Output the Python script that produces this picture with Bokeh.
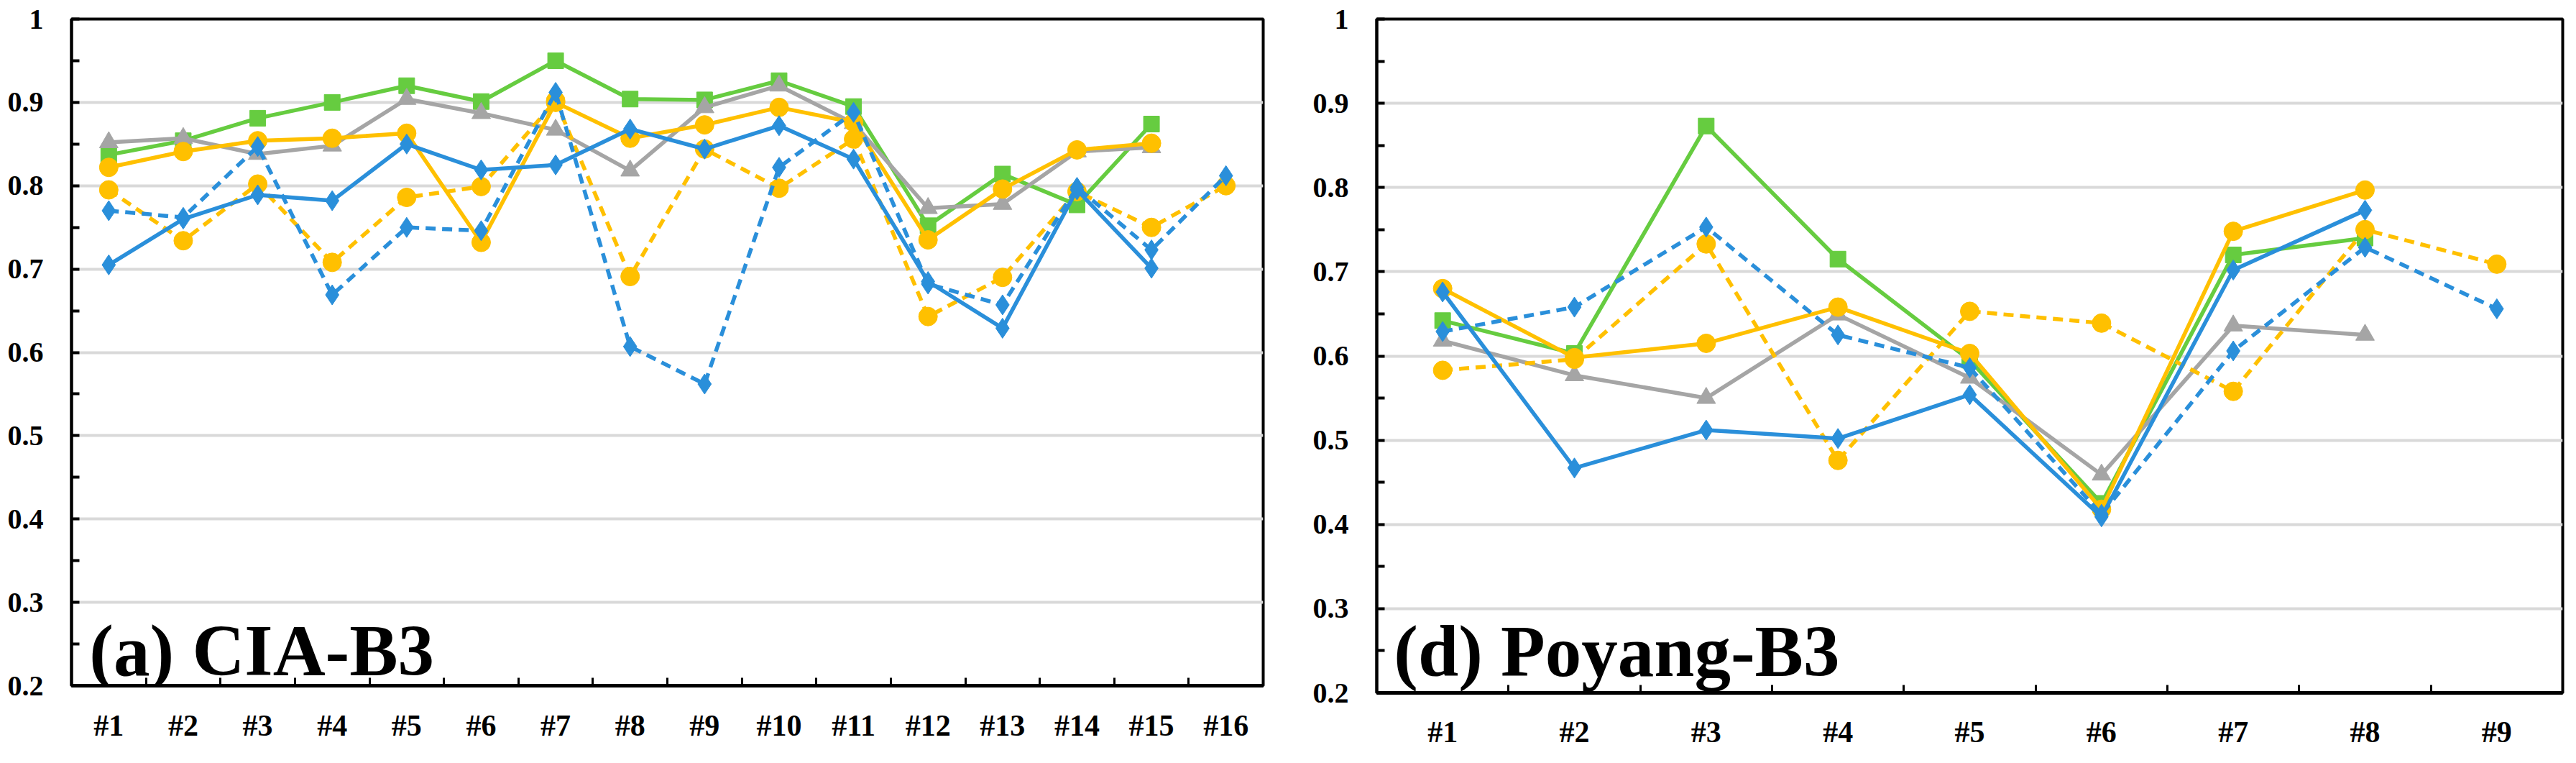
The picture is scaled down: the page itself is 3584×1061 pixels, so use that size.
import numpy as np
from bokeh.plotting import figure
from bokeh.layouts import row
from bokeh.models import Range1d, FixedTicker, Label
from bokeh.embed import file_html
from bokeh.resources import INLINE

nan = float("nan")

# ---------------- data : panel (a) CIA-B3 ----------------
cia_title = "(a) CIA-B3"
cia_categories = ["#1", "#2", "#3", "#4", "#5", "#6", "#7", "#8",
                  "#9", "#10", "#11", "#12", "#13", "#14", "#15", "#16"]
cia_green_square = [0.837, 0.854, 0.881, 0.900, 0.920, 0.901, 0.950, 0.904,
                    0.903, 0.926, 0.895, 0.752, 0.814, 0.777, 0.874, nan]
cia_gray_triangle = [0.852, 0.857, 0.838, 0.848, 0.904, 0.887, 0.867, 0.818,
                     0.894, 0.920, 0.875, 0.773, 0.778, 0.841, 0.846, nan]
cia_yellow_solid = [0.822, 0.841, 0.854, 0.857, 0.863, 0.732, 0.900, 0.857,
                    0.873, 0.894, 0.876, 0.735, 0.796, 0.843, 0.851, nan]
cia_yellow_dashed = [0.795, 0.734, 0.802, 0.708, 0.786, 0.799, 0.902, 0.691,
                     0.844, 0.797, 0.856, 0.643, 0.690, 0.793, 0.750, 0.800]
cia_blue_dashed = [0.770, 0.762, 0.847, 0.669, 0.750, 0.746, 0.912, 0.607,
                   0.562, 0.822, 0.888, 0.682, 0.657, 0.798, 0.723, 0.812]
cia_blue_solid = [0.705, 0.760, 0.789, 0.782, 0.850, 0.819, 0.825, 0.868,
                  0.844, 0.872, 0.832, 0.685, 0.629, 0.795, 0.701, nan]

# ---------------- data : panel (d) Poyang-B3 ----------------
poy_title = "(d) Poyang-B3"
poy_categories = ["#1", "#2", "#3", "#4", "#5", "#6", "#7", "#8", "#9"]
poy_green_square = [0.642, 0.603, 0.873, 0.715, 0.595, 0.425, 0.720, 0.740, nan]
poy_gray_triangle = [0.618, 0.577, 0.550, 0.649, 0.574, 0.459, 0.636, 0.625, nan]
poy_yellow_solid = [0.680, 0.598, 0.615, 0.658, 0.603, 0.418, 0.748, 0.797, nan]
poy_yellow_dashed = [0.583, 0.596, 0.733, 0.476, 0.653, 0.639, 0.558, 0.750, 0.709]
poy_blue_dashed = [0.629, 0.658, 0.753, 0.625, 0.586, 0.412, 0.606, 0.729, 0.656]
poy_blue_solid = [0.676, 0.467, 0.512, 0.502, 0.554, 0.409, 0.702, 0.773, nan]

# ---------------- axis ticks ----------------
y_tick_values = [0.2, 0.3, 0.4, 0.5, 0.6, 0.7, 0.8, 0.9, 1.0]
y_tick_labels = ["0.2", "0.3", "0.4", "0.5", "0.6", "0.7", "0.8", "0.9", "1"]
y_minor_values = [0.25, 0.35, 0.45, 0.55, 0.65, 0.75, 0.85, 0.95]

BLUE = "#2A8FDA"
GREEN = "#66CC40"
GRAY = "#A5A5A5"
YELLOW = "#FFC000"
FONT = "Liberation Serif"


def make_panel(categories, series, title, frame_w, frame_h, b_left, b_right,
               b_top, b_bottom, title_x, title_y, x_standoff):
    n = len(categories)
    xs = np.arange(n) + 0.5
    p = figure(output_backend="svg", toolbar_location=None,
               frame_width=frame_w, frame_height=frame_h,
               min_border_left=b_left, min_border_right=b_right,
               min_border_top=b_top, min_border_bottom=b_bottom,
               x_range=Range1d(0, n), y_range=Range1d(0.2, 1.0))
    p.background_fill_color = "white"
    p.border_fill_color = "white"
    p.outline_line_color = "black"
    p.outline_line_width = 4
    p.outline_line_alpha = 1.0

    # grid
    p.xgrid.visible = False
    p.ygrid.ticker = FixedTicker(ticks=y_tick_values[1:-1])
    p.ygrid.grid_line_color = "#D9D9D9"
    p.ygrid.grid_line_width = 4

    # y axis
    ya = p.yaxis[0]
    ya.ticker = FixedTicker(ticks=y_tick_values, minor_ticks=y_minor_values)
    ya.major_label_overrides = {float(v): t for v, t in zip(y_tick_values, y_tick_labels)}
    ya.axis_line_color = "black"
    ya.axis_line_width = 4
    ya.major_tick_in = 11
    ya.major_tick_out = 0
    ya.minor_tick_in = 11
    ya.minor_tick_out = 0
    ya.major_tick_line_width = 4
    ya.minor_tick_line_width = 4
    ya.major_tick_line_color = "black"
    ya.minor_tick_line_color = "black"
    ya.major_label_standoff = 39
    ya.major_label_text_font = FONT
    ya.major_label_text_font_style = "bold"
    ya.major_label_text_font_size = "40px"
    ya.major_label_text_color = "black"

    # x axis (labels at category centres, ticks at category boundaries)
    xa = p.xaxis[0]
    xa.ticker = FixedTicker(ticks=[float(v) for v in xs],
                            minor_ticks=[float(v) for v in range(1, n)])
    xa.major_label_overrides = {float(v): c for v, c in zip(xs, categories)}
    xa.axis_line_color = "black"
    xa.axis_line_width = 5
    xa.major_tick_in = 0
    xa.major_tick_out = 0
    xa.minor_tick_in = 11
    xa.minor_tick_out = 0
    xa.minor_tick_line_width = 3
    xa.minor_tick_line_color = "black"
    xa.major_label_standoff = x_standoff
    xa.major_label_text_font = FONT
    xa.major_label_text_font_style = "bold"
    xa.major_label_text_font_size = "42px"
    xa.major_label_text_color = "black"

    for vals, color, marker, size, dash in series:
        p.line(xs, vals, line_color=color, line_width=5.5, line_dash=dash)
        p.scatter(xs, vals, marker=marker, size=size, fill_color=color,
                  line_color=color, line_width=1)

    p.add_layout(Label(x=title_x, y=title_y, text=title, text_font=FONT,
                       text_font_style="bold", text_font_size="101px",
                       text_color="black", text_baseline="alphabetic"))
    return p


cia_series = [
    (cia_green_square, GREEN, "square", 22, "solid"),
    (cia_gray_triangle, GRAY, "triangle", 26, "solid"),
    (cia_yellow_solid, YELLOW, "circle", 26, "solid"),
    (cia_yellow_dashed, YELLOW, "circle", 26, "14 9"),
    (cia_blue_dashed, BLUE, "diamond", 28, "14 9"),
    (cia_blue_solid, BLUE, "diamond", 28, "solid"),
]
poy_series = [
    (poy_green_square, GREEN, "square", 22, "solid"),
    (poy_gray_triangle, GRAY, "triangle", 26, "solid"),
    (poy_yellow_solid, YELLOW, "circle", 26, "solid"),
    (poy_yellow_dashed, YELLOW, "circle", 26, "14 9"),
    (poy_blue_dashed, BLUE, "diamond", 28, "14 9"),
    (poy_blue_solid, BLUE, "diamond", 28, "solid"),
]

p1 = make_panel(cia_categories, cia_series, cia_title, 1658, 927, 99, 25, 26, 80,
                0.24, 0.242, 32)
p2 = make_panel(poy_categories, poy_series, poy_title, 1650, 937, 133, 3, 26, 78,
                0.13, 0.249, 31)

layout = row(p1, p2)
open("out.html", "w").write(file_html(layout, INLINE))
